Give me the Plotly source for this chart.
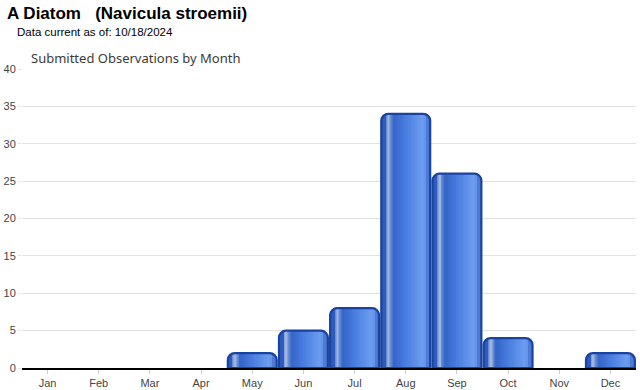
import plotly.graph_objects as go

months = ["Jan", "Feb", "Mar", "Apr", "May", "Jun", "Jul", "Aug", "Sep", "Oct", "Nov", "Dec"]
counts = [0, 0, 0, 0, 2, 5, 8, 34, 26, 4, 0, 2]
y_ticks = [0, 5, 10, 15, 20, 25, 30, 35, 40]

title_text = "A Diatom\u00a0\u00a0\u00a0(Navicula stroemii)"
subtitle_text = "Data current as of: 10/18/2024"
chart_title = "Submitted Observations by Month"

BAR_W = 0.975
EDGE = 0.11  # corner region in category units
grad = [
    (0.00, (0x26, 0x52, 0xb2)),
    (0.06, (0x30, 0x5e, 0xc0)),
    (0.12, (0x6a, 0x8c, 0xd0)),
    (0.165, (0xab, 0xbf, 0xe2)),
    (0.21, (0x68, 0x8c, 0xd6)),
    (0.27, (0x34, 0x64, 0xc8)),
    (0.50, (0x48, 0x7c, 0xde)),
    (0.84, (0x6c, 0x9d, 0xf0)),
    (0.93, (0x5a, 0x8a, 0xe4)),
    (1.00, (0x2a, 0x56, 0xb8)),
]


def color_at(f):
    for (p0, c0), (p1, c1) in zip(grad[:-1], grad[1:]):
        if p0 <= f <= p1:
            t = (f - p0) / (p1 - p0) if p1 > p0 else 0
            c = [round(a + (b - a) * t) for a, b in zip(c0, c1)]
            return "rgb(%d,%d,%d)" % tuple(c)
    return "rgb(%d,%d,%d)" % grad[-1][1]


fig = go.Figure()
common = dict(x=months, y=counts, hoverinfo="skip", showlegend=False)

# base halves with rounded corners
fig.add_trace(go.Bar(**common, width=BAR_W / 2 + 0.02, offset=-BAR_W / 2,
                     marker=dict(color=color_at(0.05), line=dict(width=0), cornerradius=7)))
fig.add_trace(go.Bar(**common, width=BAR_W / 2 + 0.02, offset=-0.02,
                     marker=dict(color=color_at(0.95), line=dict(width=0), cornerradius=7)))

# interior gradient stripes
N = 44
x0 = -BAR_W / 2 + EDGE
x1 = BAR_W / 2 - EDGE
sw = (x1 - x0) / N
for i in range(N):
    off = x0 + i * sw
    f = (off + sw / 2 + BAR_W / 2) / BAR_W
    fig.add_trace(go.Bar(**common, width=sw * 1.15, offset=off,
                         marker=dict(color=color_at(f), line=dict(width=0))))

# outline
fig.add_trace(go.Bar(**common, width=BAR_W - 0.02, offset=-BAR_W / 2 + 0.01,
                     marker=dict(color="rgba(0,0,0,0)", cornerradius=7,
                                 line=dict(color="#1a439e",
                                           width=[2.2 if v > 0 else 0 for v in counts]))))

ML, MR, MT, MB = 22, 4, 69, 22
pw = 640 - ML - MR
ph = 390 - MT - MB


def px_x(x):
    return (x - ML) / pw


def px_y(y):
    return (390 - MB - y) / ph


fig.update_layout(
    width=640, height=390,
    barmode="overlay",
    paper_bgcolor="white", plot_bgcolor="white",
    margin=dict(l=ML, r=MR, t=MT, b=MB, autoexpand=False),
    font=dict(family="Liberation Sans, Arial, sans-serif", color="#444", size=11),
    xaxis=dict(type="category", categoryorder="array", categoryarray=months,
               range=[-0.5, 11.5], showgrid=False, automargin=False,
               showline=True, linecolor="black", linewidth=2,
               ticks="outside", ticklen=4, tickcolor="#cccccc", tickwidth=1,
               tickfont=dict(size=11, color="#444"), fixedrange=True),
    yaxis=dict(range=[0, 40], tickvals=y_ticks, showgrid=True, gridcolor="#e2e2e2",
               gridwidth=1, zeroline=False, ticks="outside", ticklen=3, automargin=False,
               tickcolor="#e2e2e2", tickfont=dict(size=11, color="#444"),
               fixedrange=True),
    annotations=[
        dict(text="<b>" + title_text + "</b>", x=px_x(5), y=px_y(14), xref="paper", yref="paper",
             showarrow=False, xanchor="left", yanchor="middle",
             font=dict(size=17, color="black", family="Liberation Sans, Arial, sans-serif")),
        dict(text=subtitle_text, x=px_x(15), y=px_y(32), xref="paper", yref="paper",
             showarrow=False, xanchor="left", yanchor="middle",
             font=dict(size=11.5, color="black", family="Liberation Sans, Arial, sans-serif")),
        dict(text=chart_title, x=px_x(29), y=px_y(58), xref="paper", yref="paper",
             showarrow=False, xanchor="left", yanchor="middle",
             font=dict(size=13, color="#3a3a3a", family="Noto Sans, sans-serif")),
    ],
)

fig.write_html("out.html", config={"displayModeBar": False},
               post_script="document.body.style.margin='0';document.body.style.padding='0';"
                           "document.body.style.overflow='hidden';")
